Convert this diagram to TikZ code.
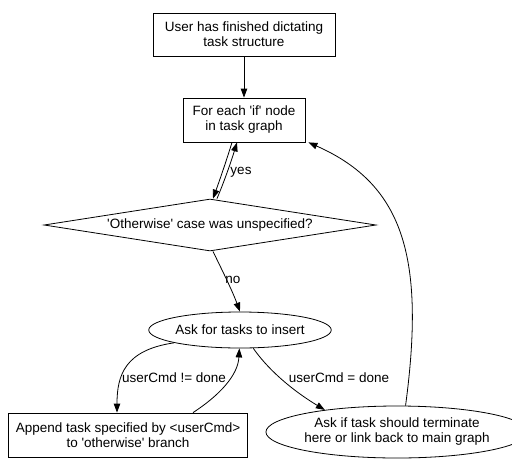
\documentclass[tikz,border=0pt]{standalone}
\usepackage{fontspec}
\setmainfont{Liberation Sans}[Ligatures=TeXOff]
\usetikzlibrary{shapes.geometric,arrows.meta}
\begin{document}
\begin{tikzpicture}[x=1pt,y=-1pt,line width=0.8pt,
>={Triangle[length=9pt,width=6.5pt]},
every node/.style={font=\fontsize{13.5}{15}\selectfont},
stepbox/.style={draw,rectangle,align=center,inner sep=0pt},
askoval/.style={draw,ellipse,align=center,inner sep=0pt},
decide/.style={draw,diamond,aspect=6.4,inner sep=0pt}]

\useasboundingbox (0,0) rectangle (512,459);

\draw (244,34.5) node[stepbox,minimum width=182pt,minimum height=43pt] (start) {User has finished dictating\\ task structure};
\draw (244,120) node[stepbox,minimum width=122pt,minimum height=44pt] (foreach) {For each 'if' node\\ in task graph};
\draw (210,225) node[decide,minimum width=332pt,minimum height=52pt] (check) {'Otherwise' case was unspecified?};
\draw (240,330) node[askoval,minimum width=165pt,minimum height=36pt] (ask) {Ask for tasks to insert};
\draw (128,435) node[stepbox,minimum width=239pt,minimum height=44pt] (append) {Append task specified by <userCmd>\\ to 'otherwise' branch};
\draw (397,432) node[askoval,minimum width=228pt,minimum height=52pt] (ask2) {Ask if task should terminate\\ here or link back to main graph};

\draw[->] (start) -- (foreach);

% the two edges between the loop box and the test
\draw[->] ([xshift=-12pt]foreach.south) .. controls (226,162) and (219,182) .. ([xshift=3pt]check.north);
\draw[->] ([xshift=7pt]check.north) .. controls (224,182) and (231,162) .. ([xshift=-7pt]foreach.south) ;
\draw (241,172) node {yes};

\draw[->] ([xshift=3pt]check.south) .. controls (222,270) and (232,290) .. (ask.north);
\draw (233,280) node {no};

\draw[->] (ask.191) .. controls (125,350) and (117,375) .. ([xshift=-11pt]append.north);
\draw (174,378) node {userCmd != done};
\draw[->] ([xshift=65pt]append.north) .. controls (220,395) and (238,375) .. (ask.268);

\draw[->] (ask.306) .. controls (272,375) and (300,395) .. (ask2.163);
\draw (339,378) node {userCmd = done};

\draw[->] (ask2.72) .. controls (425,260) and (405,185) .. ([xshift=3pt]foreach.south east);
\end{tikzpicture}
\end{document}
